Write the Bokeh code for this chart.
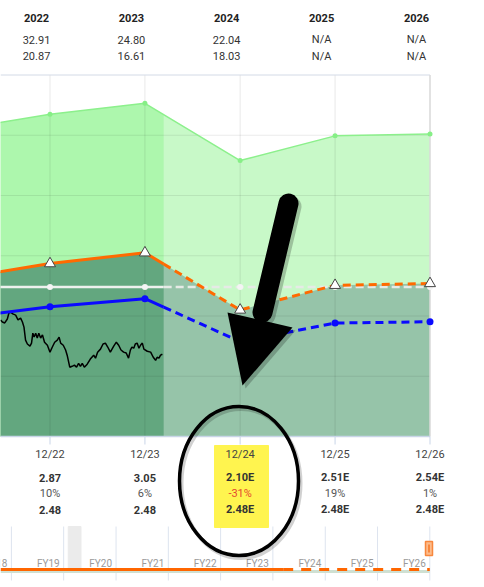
import numpy as np
import pandas as pd
from bokeh.plotting import figure
from bokeh.models import Range1d, ColumnDataSource
from bokeh.core.properties import value
from bokeh.embed import file_html
from bokeh.resources import INLINE

# ---------------- data ----------------
fy_labels = ["12/21", "12/22", "12/23", "12/24", "12/25", "12/26"]
fy_end = ["2021-12-31", "2022-12-31", "2023-12-31", "2024-12-31", "2025-12-31", "2026-12-31"]
eps = [2.61, 2.87, 3.05, 2.10, 2.51, 2.54]
eps_text = ["2.61", "2.87", "3.05", "2.10E", "2.51E", "2.54E"]
growth_text = ["", "10%", "6%", "-31%", "19%", "1%"]
div = [2.48, 2.48, 2.48, 2.48, 2.48, 2.48]
div_text = ["2.48", "2.48", "2.48", "2.48E", "2.48E", "2.48E"]
normal_pe = 20
blue_pe = 15

hdr_years = ["2022", "2023", "2024", "2025", "2026"]
hdr_high = ["32.91", "24.80", "22.04", "N/A", "N/A"]
hdr_low = ["20.87", "16.61", "18.03", "N/A", "N/A"]

price_dates = [
    "2022-06-24", "2022-07-01", "2022-07-10", "2022-07-20", "2022-07-26", "2022-08-02",
    "2022-08-10", "2022-08-21", "2022-08-30", "2022-09-09", "2022-09-16", "2022-09-22",
    "2022-09-28", "2022-10-05", "2022-10-15", "2022-10-21", "2022-10-26", "2022-10-31",
    "2022-11-06", "2022-11-12", "2022-11-18", "2022-11-25", "2022-12-02", "2022-12-10",
    "2022-12-21", "2022-12-31", "2023-01-09", "2023-01-18", "2023-01-28", "2023-02-04",
    "2023-02-10", "2023-02-20", "2023-03-01", "2023-03-07", "2023-03-17", "2023-03-26",
    "2023-04-04", "2023-04-12", "2023-04-20", "2023-04-27", "2023-05-04", "2023-05-12",
    "2023-05-23", "2023-06-04", "2023-06-17", "2023-06-24", "2023-07-02", "2023-07-13",
    "2023-07-23", "2023-08-01", "2023-08-10", "2023-08-20", "2023-09-02", "2023-09-12",
    "2023-09-21", "2023-09-30", "2023-10-10", "2023-10-20", "2023-10-29", "2023-11-05",
    "2023-11-11", "2023-11-18", "2023-11-24", "2023-12-01", "2023-12-08", "2023-12-14",
    "2023-12-21", "2023-12-27", "2024-01-09", "2024-01-22", "2024-02-01", "2024-02-10",
    "2024-02-16", "2024-02-23", "2024-02-29", "2024-03-07",
]
price = [
    38.7, 38.0, 37.7, 39.0, 41.0, 41.3, 40.7, 40.3, 38.7, 39.3, 38.0, 36.3,
    32.0, 30.7, 30.0, 31.0, 34.3, 33.0, 34.3, 32.7, 34.3, 32.7, 33.7, 31.3,
    30.3, 28.0, 29.7, 31.3, 32.0, 33.0, 31.0, 30.3, 28.7, 27.0, 23.0, 23.3,
    23.7, 23.0, 24.3, 23.3, 24.3, 23.0, 24.0, 25.7, 27.0, 26.0, 28.0, 29.0,
    30.7, 31.0, 29.7, 28.0, 30.0, 31.3, 30.3, 28.7, 28.0, 27.7, 26.0, 28.7,
    29.7, 29.3, 30.7, 31.0, 29.3, 30.3, 31.0, 29.0, 28.3, 28.0, 26.3, 25.3,
    26.3, 26.0, 27.0, 27.3,
]
today = "2024-03-12"

nav_labels = ["FY18", "FY19", "FY20", "FY21", "FY22", "FY23", "FY24", "FY25", "FY26"]
nav_end = ["2018-12-31", "2019-12-31", "2020-12-31", "2021-12-31", "2022-12-31",
           "2023-12-31", "2024-12-31", "2025-12-31", "2026-12-31"]
recession = ["2020-02-01", "2020-04-30"]

# ---------------- helpers ----------------
YR = 365.25 * 86400 * 1000.0


def ms(d):
    s = pd.to_datetime(pd.Series(d))
    return np.asarray((s - pd.Timestamp("1970-01-01")) / pd.Timedelta(milliseconds=1), dtype=float)


W, H = 484, 587
PX_PER_YR = 95.0
PX_PER_USD = 3.0125
Y0_PX = 436.0

fx = ms(fy_end)
tx = ms([today])[0]
x_start = fx[1] - 49.5 / PX_PER_YR * YR
x_end = x_start + W / PX_PER_YR * YR
y_bot = -(H - Y0_PX) / PX_PER_USD
y_top = Y0_PX / PX_PER_USD

nfx = ms(nav_end)
NAV_PX = 52.3
n_start = nfx[-1] - 429.3 / NAV_PX * YR
n_end = n_start + W / NAV_PX * YR

FONT = value("Roboto")

p = figure(width=W, height=H, x_range=Range1d(x_start, x_end), y_range=Range1d(y_bot, y_top),
           output_backend="svg", toolbar_location=None,
           x_axis_location=None, y_axis_location=None, min_border=0,
           outline_line_color=None, background_fill_color="white", border_fill_color="white")
for g in p.grid:
    g.visible = False
p.extra_x_ranges = {"px": Range1d(0, W), "nav": Range1d(n_start, n_end)}
p.extra_y_ranges = {"px": Range1d(H, 0)}

# ---------------- navigator ----------------
r0, r1 = ms(recession)
p.quad(left=[r0], right=[r1], top=[526], bottom=[568], color="#ebebeb",
       x_range_name="nav", y_range_name="px")
p.segment(x0=nfx, x1=nfx, y0=[526] * len(nfx), y1=[580] * len(nfx), line_color="#dde4ef",
          line_width=1, x_range_name="nav", y_range_name="px")
p.text(x=nfx, y=[563] * len(nfx), text=nav_labels, text_font=FONT, text_font_size="10px",
       text_color="#9a9a9a", text_align="right", text_baseline="middle", x_offset=-4,
       x_range_name="nav", y_range_name="px")
p.line(x=[n_start, nfx[-1]], y=[571, 571], line_color="#cfe0d2", line_width=3,
       x_range_name="nav", y_range_name="px")
p.line(x=[n_start, tx], y=[569, 569], line_color="#ff6600", line_width=3,
       x_range_name="nav", y_range_name="px")
p.line(x=[tx, nfx[-1]], y=[569, 569], line_color="#ff6600", line_width=3, line_dash="10 8",
       x_range_name="nav", y_range_name="px")
p.rect(x=[428.5], y=[548], width=7, height=14, fill_color="#fdbb8a", line_color="#f7873d",
       line_width=1.5, x_range_name="px", y_range_name="px")
p.segment(x0=[428.5], x1=[428.5], y0=[544], y1=[552], line_color="#f7873d", line_width=2,
          x_range_name="px", y_range_name="px")

# ---------------- highlight ----------------
p.quad(left=[214], right=[268], top=[445], bottom=[527], color="#fff44f",
       x_range_name="px", y_range_name="px")

# ---------------- main areas ----------------
v_orange = np.array(eps) * normal_pe
v_white = np.array(div) * normal_pe
v_top = v_orange + v_white
v_blue = np.array(eps) * blue_pe

p.varea(x=fx, y1=np.zeros(len(fx)), y2=v_top, fill_color="#adf7ad")
p.varea(x=fx, y1=np.zeros(len(fx)), y2=v_orange, fill_color="#63a77f")
# estimate region lightened
p.quad(left=[tx], right=[fx[-1]], bottom=[0], top=[120], fill_color="white", fill_alpha=0.33,
       line_color=None)

# grid
for gy in [20, 40, 60, 80, 100]:
    p.line(x=[x_start, fx[-1]], y=[gy, gy], line_color="black", line_alpha=0.08, line_width=1)
p.segment(x0=fx, x1=fx, y0=[0] * len(fx), y1=[120] * len(fx), line_color="black",
          line_alpha=0.09, line_width=1)
p.line(x=[x_start, fx[-1]], y=[120, 120], line_color="#d3dae6", line_width=1)
p.line(x=[fx[-1], fx[-1]], y=[0, 120], line_color="#dcdcdc", line_width=1.5)
p.line(x=[x_start, fx[-1]], y=[0, 0], line_color="#c9d5e8", line_width=1.5)
p.segment(x0=fx, x1=fx, y0=[Y0_PX] * len(fx), y1=[444] * len(fx), line_color="#c9d5e8",
          line_width=1, y_range_name="px")

# price
p.line(x=ms(price_dates), y=price, line_color="black", line_width=1.5)

# top edge of stacked band
p.line(x=fx, y=v_top, line_color="#8cf08c", line_width=1.5)
p.scatter(x=fx, y=v_top, size=5, marker="circle", fill_color="#86ef86", line_color=None)


def split(vals):
    v_today = float(np.interp(tx, fx, vals))
    act = fx <= tx
    xs_s = list(fx[act]) + [tx]
    ys_s = list(vals[act]) + [v_today]
    xs_d = [tx] + list(fx[~act])
    ys_d = [v_today] + list(vals[~act])
    return xs_s, ys_s, xs_d, ys_d


# white line
a, b, c, d = split(v_white)
p.line(x=a, y=b, line_color="#eef1ee", line_width=2.5)
p.line(x=c, y=d, line_color="#e6eae6", line_width=2.5, line_dash="8 4")
p.scatter(x=fx, y=v_white, size=6, marker="circle", fill_color="#f4f4f4", line_color=None)

# blue line
a, b, c, d = split(v_blue)
p.line(x=a, y=b, line_color="#0a0aff", line_width=3)
p.line(x=c, y=d, line_color="#0a0aff", line_width=3, line_dash="8 5")
p.scatter(x=fx, y=v_blue, size=7, marker="circle", fill_color="#0a0aff", line_color=None)

# orange line
a, b, c, d = split(v_orange)
p.line(x=a, y=b, line_color="#ff6a00", line_width=3)
p.line(x=c, y=d, line_color="#ff6a00", line_width=3, line_dash="8 5")
p.scatter(x=fx, y=v_orange, size=11, marker="triangle", fill_color="white", line_color="#444444",
          line_width=1)

# ---------------- header table ----------------
hx = fx[1:]
p.text(x=hx, y=[17] * 5, text=hdr_years, text_font=FONT, text_font_size="11px",
       text_font_style="bold", text_color="#222222", text_align="center", text_baseline="middle",
       x_offset=-13.5, y_range_name="px")
p.text(x=hx, y=[39] * 5, text=hdr_high, text_font=FONT, text_font_size="11px",
       text_color="#333333", text_align="center", text_baseline="middle",
       x_offset=-13.5, y_range_name="px")
p.text(x=hx, y=[55.5] * 5, text=hdr_low, text_font=FONT, text_font_size="11px",
       text_color="#333333", text_align="center", text_baseline="middle",
       x_offset=-13.5, y_range_name="px")

# ---------------- bottom table ----------------
p.text(x=hx, y=[454] * 5, text=fy_labels[1:], text_font=FONT, text_font_size="11px",
       text_color="#444444", text_align="center", text_baseline="middle", y_range_name="px")
p.text(x=hx, y=[477] * 5, text=eps_text[1:], text_font=FONT, text_font_size="11px",
       text_font_style="bold", text_color="#333333", text_align="center", text_baseline="middle",
       y_range_name="px")
gcol = ["#e5462f" if t.startswith("-") else "#555555" for t in growth_text[1:]]
gsrc = ColumnDataSource(dict(x=hx, y=[493] * 5, t=growth_text[1:], c=gcol))
p.text(x="x", y="y", text="t", text_color="c", source=gsrc, text_font=FONT,
       text_font_size="11px", text_align="center", text_baseline="middle", y_range_name="px")
p.text(x=hx, y=[509] * 5, text=div_text[1:], text_font=FONT, text_font_size="11px",
       text_font_style="bold", text_color="#333333", text_align="center", text_baseline="middle",
       y_range_name="px")

# ---------------- annotations: ellipse + arrow ----------------
p.ellipse(x=[240.5], y=[483], width=119, height=149, fill_color=None, line_color="black",
          line_alpha=0.18, line_width=4, x_range_name="px", y_range_name="px")
p.ellipse(x=[238.5], y=[480.5], width=119, height=149, fill_color=None, line_color="black",
          line_width=3.5, x_range_name="px", y_range_name="px")

for off, alpha in [(3, 0.22), (0, 1.0)]:
    p.line(x=[288 + off, 262 + off], y=[203 + off, 312 + off], line_color="black",
           line_alpha=alpha, line_width=20, line_cap="round", x_range_name="px", y_range_name="px")
    p.patch(x=[227 + off, 292 + off, 242 + off], y=[312 + off, 327 + off, 385 + off],
            fill_color="black", fill_alpha=alpha, line_color=None,
            x_range_name="px", y_range_name="px")

open("out.html", "w").write(file_html(p, INLINE))
